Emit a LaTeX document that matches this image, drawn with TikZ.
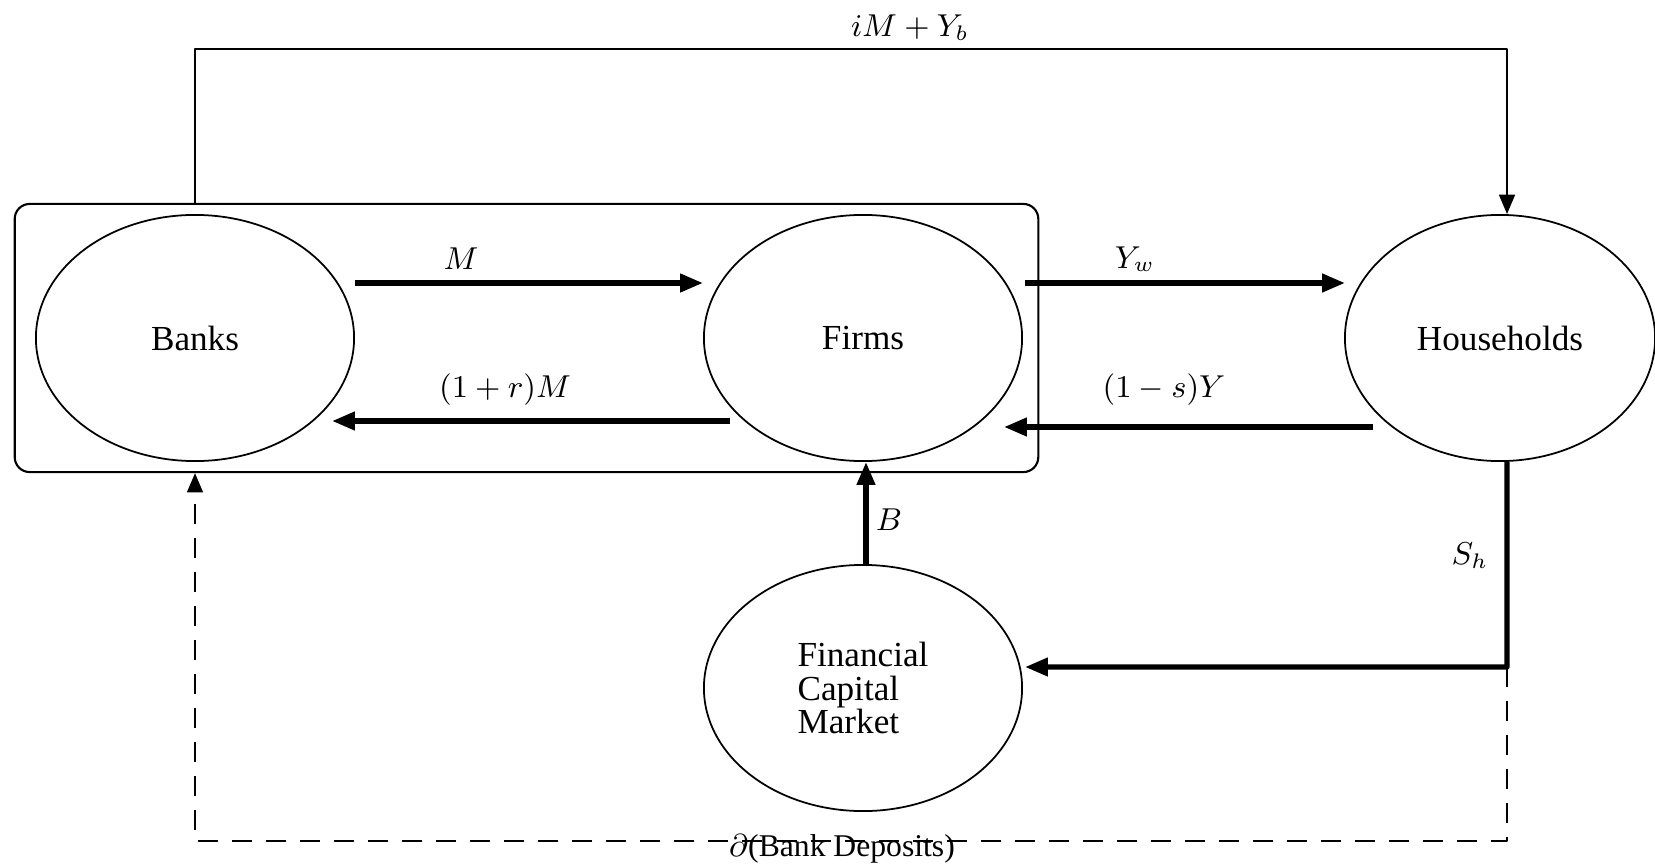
\documentclass[tikz,border=0pt]{standalone}
\usepackage{fontspec}
\setmainfont{Liberation Serif}
\usetikzlibrary{shapes.geometric,arrows.meta}
\begin{document}
\begin{tikzpicture}[x=0.01cm,y=-0.01cm,>={Triangle[length=6.5pt,width=5pt]}, line join=round]
	\tikzset{agent/.style={draw,ellipse,line width=0.5pt,minimum width=3.18cm,minimum height=2.46cm,inner sep=0pt,align=center},
		flow/.style={->,line width=1.5pt},
		link/.style={->,line width=0.6pt,>={Triangle[length=5.5pt,width=4.5pt]}},
		lbl/.style={inner sep=1pt,font=\small}}
	\useasboundingbox (0,0) rectangle (1655,867);
	% agents
	\node[draw,rounded corners=0.15cm,line width=0.6pt,minimum width=10.23cm,minimum height=2.68cm] (sector) at (526.5,338) {};
	\node[agent] (banks) at (195,338) {Banks};
	\node[agent] (firms) at (863,338) {Firms};
	\node[agent,minimum width=3.10cm] (households) at (1500,338) {Households};
	\node[agent,align=left] (market) at (863,688) {Financial\\[-2.5pt]Capital\\[-2.5pt]Market};
	% flows
	\draw[flow] ([shift={(0,-55)}]banks.east) -- ([shift={(0,-55)}]firms.west);
	\draw[flow] ([shift={(27,83)}]firms.west) -- ([shift={(-23,83)}]banks.east);
	\draw[flow] ([shift={(2,-55)}]firms.east) -- ([shift={(1,-55)}]households.west);
	\draw[flow] ([shift={(29,89)}]households.west) -- ([shift={(-19,89)}]firms.east);
	\draw[flow] ([shift={(3,1)}]market.north) -- ([shift={(3,0)}]firms.south);
	\coordinate (split) at (1507,667);
	\draw[flow] ([xshift=0.07cm]households.south) -- (split) -- ([shift={(2,-21)}]market.east);
	\draw[link] (banks |- sector.north) -- ++(0,-154) -| ([xshift=0.07cm]households.north);
	\draw[link,dashed,dash pattern=on 0.2cm off 0.14cm] (split) -- ++(0,174) -| (banks |- sector.south);
	% labels
	\node[lbl] (lm) at (461,259) {$M$};
	\node[lbl] (lrm) at (505,390) {$(1+r)M$};
	\node[lbl] (lyw) at (1135,259) {$Y_w$};
	\node[lbl] (lsy) at (1164,390) {$(1-s)Y$};
	\node[lbl] (lb) at (889,520) {$B$};
	\node[lbl] (lsh) at (1470,556) {$S_h$};
	\node[lbl] (lyb) at (910,28) {$iM + Y_b$};
	\node[lbl,anchor=south,inner sep=0.5pt] (ldep) at (842,866) {$\partial$(Bank Deposits)};
\end{tikzpicture}
\end{document}
